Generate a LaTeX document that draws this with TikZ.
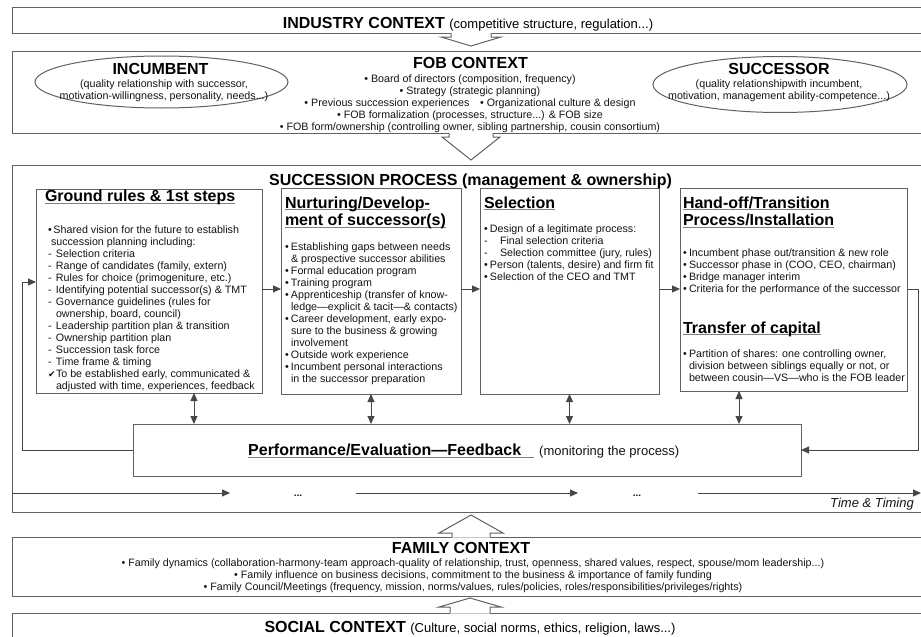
\documentclass[tikz,border=0pt]{standalone}
\usepackage{fontspec}
\setmainfont{Liberation Sans}
\newfontfamily\symfont{DejaVu Sans}
\usetikzlibrary{arrows.meta,calc,shapes.geometric}

\colorlet{linegray}{black!62}
\colorlet{inkgray}{black!92}

% heading underline: grey rule slightly below the baseline
\newcommand\hul[1]{\setbox0=\hbox{#1}\rlap{\textcolor{black!50}{\rule[-2.4pt]{\wd0}{1.3pt}}}\box0}
\newcommand\bu{\makebox[6pt][l]{•}}
\newcommand\ind{\hspace*{6pt}}
\newcommand\dashitem[1]{\makebox[#1][l]{-}}

% outlined block arrow leaving a box edge
% #1 centre x, #2 box edge y, #3 shoulder y, #4 tip y, #5 half stem, #6 half head, #7 fill overlap y
\newcommand\blockarrow[7]{%
  \fill[white] (#1-#5,#7) -- (#1-#5,#3) -- (#1-#6,#3) -- (#1,#4) -- (#1+#6,#3) -- (#1+#5,#3) -- (#1+#5,#7) -- cycle;
  \draw[blockline] (#1-#5,#2) -- (#1-#5,#3) -- (#1-#6,#3) -- (#1,#4) -- (#1+#6,#3) -- (#1+#5,#3) -- (#1+#5,#2);}

\begin{document}
\begin{tikzpicture}[x=1pt,y=-1pt,
  box/.style={draw=linegray, line width=1pt, inner sep=0pt, outer sep=0pt, anchor=north west},
  oval/.style={draw=linegray, line width=1pt, ellipse, inner sep=0pt, outer sep=0pt},
  blockline/.style={draw=linegray, line width=1pt, line join=miter},
  flow/.style={draw=black!72, line width=0.9pt, -{Triangle[length=8pt,width=7pt]}},
  both/.style={draw=black!72, line width=0.9pt, {Triangle[length=8pt,width=7pt]}-{Triangle[length=8pt,width=7pt]}},
  hd/.style={font=\fontsize{16}{18}\selectfont\bfseries, inner sep=0pt, outer sep=0pt, text=black},
  txt/.style={font=\fontsize{10.7}{12}\selectfont, inner sep=0pt, outer sep=0pt, text=inkgray, align=left},
]
\useasboundingbox (0,0) rectangle (921,637);
\clip (0,0) rectangle (921,637);
\fill[white] (0,0) rectangle (921,637);

% ---- frames ----
\node[box, minimum width=913pt, minimum height=26pt] (ind) at (12,7) {};
\node[box, minimum width=913pt, minimum height=82pt] (fob) at (12,51) {};
\node[box, minimum width=913pt, minimum height=347pt] (proc) at (12,165) {};
\node[box, minimum width=226pt, minimum height=204pt] (ground) at (36,189) {};
\node[box, minimum width=180pt, minimum height=206pt] (nurt) at (281,188) {};
\node[box, minimum width=179pt, minimum height=206pt] (sel) at (480,188) {};
\node[box, minimum width=227pt, minimum height=203pt] (hand) at (680,188) {};
\node[box, minimum width=668pt, minimum height=52pt] (perf) at (133,424) {};
\node[box, minimum width=913pt, minimum height=59pt] (fam) at (12,537) {};
\node[box, minimum width=913pt, minimum height=40pt] (soc) at (12,613) {};

\node[oval, minimum width=253pt, minimum height=52pt] (inc) at (161.5,82) {};
\node[oval, minimum width=254pt, minimum height=56pt] (suc) at (780,84.5) {};

% ---- industry ----
\node[hd, anchor=base] (indtxt) at (468,28.3) {INDUSTRY CONTEXT {\mdseries\fontsize{13}{15}\selectfont (competitive structure, regulation...)}};

% ---- FOB context ----
\node[hd, anchor=base] (fobtitle) at (470.5,68) {FOB CONTEXT};
\node[txt, align=center, anchor=north] (foblist) at (470,73.6) {\strut• Board of directors (composition, frequency)\\
• Strategy (strategic planning)\\
• Previous succession experiences\quad • Organizational culture \& design\\
• FOB formalization (processes, structure...) \& FOB size\\
• FOB form/ownership (controlling owner, sibling partnership, cousin consortium)};

\node[hd, anchor=base] (inctitle) at (160.5,74) {INCUMBENT};
\node[txt, align=center, anchor=north] (inctext) at (164,79) {\strut(quality relationship with successor,\\motivation-willingness, personality, needs...)};
\node[hd, anchor=base] (suctitle) at (779,74) {SUCCESSOR};
\node[txt, align=center, anchor=north] (suctext) at (779,79) {\strut(quality relationshipwith incumbent,\\motivation, management ability-competence...)};

% ---- succession process ----
\node[hd, anchor=base] (proctitle) at (470.5,185) {SUCCESSION PROCESS (management \& ownership)};

\node[hd, anchor=base west] (groundhd) at (45,201.5) {\hul{Ground rules \& 1st steps}};
\node[txt, anchor=north west] (groundtxt) at (48,225) {\strut\makebox[5.5pt][l]{•}Shared vision for the future to establish\\
\hspace*{3pt}succession planning including:\\
\dashitem{8pt}Selection criteria\\
\dashitem{8pt}Range of candidates (family, extern)\\
\dashitem{8pt}Rules for choice (primogeniture, etc.)\\
\dashitem{8pt}Identifying potential successor(s) \& TMT\\
\dashitem{8pt}Governance guidelines (rules for\\
\hspace*{8pt}ownership, board, council)\\
\dashitem{8pt}Leadership partition plan \& transition\\
\dashitem{8pt}Ownership partition plan\\
\dashitem{8pt}Succession task force\\
\dashitem{8pt}Time frame \& timing\\
\makebox[8pt][l]{\symfont\fontsize{9}{12}\selectfont ✔}To be established early, communicated \&\\
\hspace*{8pt}adjusted with time, experiences, feedback};

\node[hd, anchor=base west] (nurthdA) at (285,208) {\hul{Nurturing/Develop-}};
\node[hd, anchor=base west] (nurthdB) at (285,225.5) {\hul{ment of successor(s)}};
\node[txt, anchor=north west] (nurttxt) at (285,242) {\strut\bu Establishing gaps between needs\\
\ind\& prospective successor abilities\\
\bu Formal education program\\
\bu Training program\\
\bu Apprenticeship (transfer of know-\\
\ind ledge—explicit \& tacit—\& contacts)\\
\bu Career development, early expo-\\
\ind sure to the business \& growing\\
\ind involvement\\
\bu Outside work experience\\
\bu Incumbent personal interactions\\
\ind in the successor preparation};

\node[hd, anchor=base west] (selhd) at (484,208) {\hul{Selection}};
\node[txt, anchor=north west] (seltxt) at (484,224) {\strut\bu Design of a legitimate process:\\
\dashitem{16pt}Final selection criteria\\
\dashitem{16pt}Selection committee (jury, rules)\\
\bu Person (talents, desire) and firm fit\\
\bu Selection of the CEO and TMT};

\node[hd, anchor=base west] (handhdA) at (683,208) {\hul{Hand-off/Transition}};
\node[hd, anchor=base west] (handhdB) at (683,225.5) {\hul{Process/Installation}};
\node[txt, anchor=north west] (handtxt) at (683,248) {\strut\bu Incumbent phase out/transition \& new role\\
\bu Successor phase in (COO, CEO, chairman)\\
\bu Bridge manager interim\\
\bu Criteria for the performance of the successor};

\node[hd, anchor=base west] (caphd) at (683,333) {\hul{Transfer of capital}};
\node[txt, anchor=north west] (captxt) at (683,349) {\strut\bu Partition of shares: one controlling owner,\\
\ind division between siblings equally or not, or\\
\ind between cousin—VS—who is the FOB leader};

\node[anchor=base west, inner sep=0pt, text=black] (perftxt) at (248,455.5) {{\fontsize{16}{18}\selectfont\bfseries\hul{Performance/Evaluation—Feedback\hspace{13pt}}}\hspace{5pt}{\fontsize{13}{15}\selectfont\color{inkgray}(monitoring the process)}};

% ---- flow between the stages ----
\coordinate (flowy) at (0,289);
\draw[flow] (ground.east |- flowy) -- (nurt.west |- flowy);
\draw[flow] (nurt.east |- flowy) -- (sel.west |- flowy);
\draw[flow] (sel.east |- flowy) -- (hand.west |- flowy);

\coordinate (leftrun) at (22,282);
\draw[flow] (perf.west) -| (leftrun) -- (leftrun -| ground.west);
\coordinate (rightrun) at (918,289);
\draw[flow] (hand.east |- flowy) -- (rightrun) |- (perf.east);

\draw[both] ($(ground.south west)!0.699!(ground.south east)$) coordinate (gdown) -- (gdown |- perf.north);
\draw[both] (nurt.south) -- (nurt.south |- perf.north);
\draw[both] (sel.south) -- (sel.south |- perf.north);
\draw[both] ($(hand.south west)!0.26!(hand.south east)$) coordinate (hdown) -- (hdown |- perf.north);

% ---- time line ----
\coordinate (tA) at (230,493);
\coordinate (tBs) at (356,493);
\coordinate (tB) at (578,493);
\coordinate (tCs) at (698,493);
\coordinate (tC) at (921,493);
\draw[flow] (proc.west |- tA) -- (tA);
\draw[flow] (tBs) -- (tB);
\draw[flow] (tCs) -- (tC);
\node[inner sep=0pt, font=\bfseries\fontsize{10}{12}\selectfont, text=inkgray] (dotsA) at (298,495.5) {...};
\node[inner sep=0pt, font=\bfseries\fontsize{10}{12}\selectfont, text=inkgray] (dotsB) at (637,495.5) {...};
\node[anchor=base east, inner sep=0pt, font=\itshape\fontsize{13}{15}\selectfont, text=inkgray] (timelbl) at (914,507) {Time \& Timing};

% ---- family and social context ----
\node[hd, anchor=base] (famtitle) at (461,553) {FAMILY CONTEXT};
\node[txt, align=center, anchor=north] (famlist) at (473,557.6) {\strut• Family dynamics (collaboration-harmony-team approach-quality of relationship, trust, openness, shared values, respect, spouse/mom leadership...)\\
• Family influence on business decisions, commitment to the business \& importance of family funding\\
• Family Council/Meetings (frequency, mission, norms/values, rules/policies, roles/responsibilities/privileges/rights)};

\node[hd, anchor=base] (soctxt) at (470,632) {SOCIAL CONTEXT {\mdseries\fontsize{13}{15}\selectfont (Culture, social norms, ethics, religion, laws...)}};

% ---- influence arrows between the context layers ----
\blockarrow{471}{33}{37}{46}{20}{30}{32.4}
\blockarrow{471}{133}{137}{160}{22}{29}{132.4}
\blockarrow{471}{537}{533}{515}{19}{32}{537.6}
\blockarrow{470}{613}{607}{598}{20}{31}{613.6}
\end{tikzpicture}
\end{document}
